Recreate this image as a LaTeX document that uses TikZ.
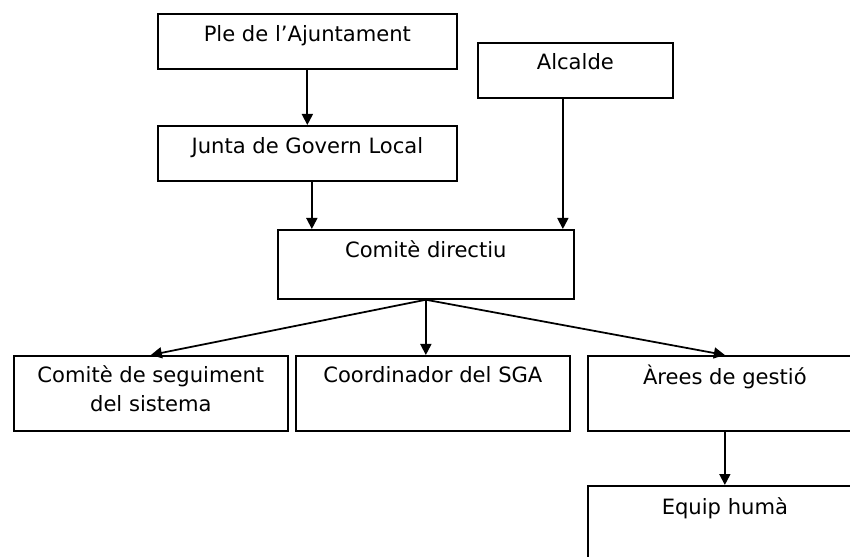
\documentclass[tikz,border=0pt]{standalone}
\usepackage{fontspec}
\setmainfont{DejaVu Sans}
\usetikzlibrary{arrows.meta}

\begin{document}
\begin{tikzpicture}[x=0.02cm, y=-0.02cm,
  caixa/.style={draw, line width=1pt, anchor=north west, inner sep=0pt},
  titol/.style={anchor=base, inner sep=0pt, align=center, font=\fontsize{12pt}{17pt}\selectfont},
  fletxa/.style={line width=1pt, -{Triangle[length=0.22cm, width=0.22cm]}}]
\useasboundingbox (0, 0) rectangle (850, 557);
\clip (0, 0) rectangle (850, 557);

\node [caixa, minimum width=5.98cm, minimum height=1.1cm] (ple) at (157, 13) {};
\node [caixa, minimum width=5.98cm, minimum height=1.1cm] (junta) at (157, 125) {};
\node [caixa, minimum width=3.9cm, minimum height=1.1cm] (alcalde) at (477, 42) {};
\node [caixa, minimum width=5.92cm, minimum height=1.38cm] (directiu) at (277, 229) {};
\node [caixa, minimum width=5.48cm, minimum height=1.5cm] (seguiment) at (13, 355) {};
\node [caixa, minimum width=5.48cm, minimum height=1.5cm] (coord) at (295, 355) {};
\node [caixa, minimum width=5.48cm, minimum height=1.5cm] (arees) at (587, 355) {};
\node [caixa, minimum width=5.48cm, minimum height=1.5cm] (equip) at (587, 485) {};

\node [titol] (pleT) at ([yshift=-0.58cm]ple.north) {Ple de l’Ajuntament};
\node [titol] (juntaT) at ([yshift=-0.58cm]junta.north) {Junta de Govern Local};
\node [titol] (alcaldeT) at ([yshift=-0.56cm]alcalde.north) {Alcalde};
\node [titol] (directiuT) at ([yshift=-0.58cm]directiu.north) {Comitè directiu};
\node [titol] (seguimentT) at ([yshift=-1.14cm]seguiment.north) {Comitè de seguiment\\del sistema};
\node [titol] (coordT) at ([yshift=-0.56cm]coord.north) {Coordinador del SGA};
\node [titol] (areesT) at ([yshift=-0.6cm]arees.north) {Àrees de gestió};
\node [titol] (equipT) at ([yshift=-0.6cm]equip.north) {Equip humà};

\draw [fletxa] (ple.south) -- (junta.north);
\draw [fletxa] ([xshift=0.09cm]junta.south) -- ([xshift=0.09cm]junta.south |- directiu.north);
\draw [fletxa] ([xshift=-0.25cm]alcalde.south) -- ([xshift=-0.25cm]alcalde.south |- directiu.north);
\draw [fletxa] (directiu.south) -- (seguiment.north);
\draw [fletxa] (directiu.south) -- (coord.north -| directiu.south);
\draw [fletxa] (directiu.south) -- (arees.north);
\draw [fletxa] (arees.south) -- (equip.north);
\end{tikzpicture}
\end{document}
